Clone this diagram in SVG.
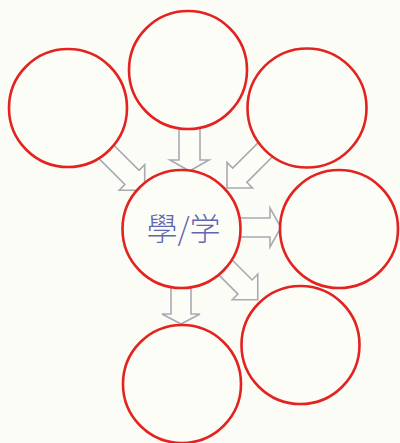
<svg xmlns="http://www.w3.org/2000/svg" width="400" height="443" viewBox="0 0 400 443">
  <style>
    .arrow { fill: #fdfdf8; stroke: #a7aab1; stroke-width: 1.6; stroke-linejoin: miter; }
    .node { fill: #fdfdf8; stroke: #e2231f; stroke-width: 2.6; }
    .label { font-family: "Noto Sans CJK TC", "Noto Sans CJK SC", sans-serif; font-size: 31px; font-weight: 300; fill: #5f68ae; text-anchor: middle; }
  </style>
  <defs>
    <polygon id="diag50" points="0,-10 50,-10 50,-18 68,0 50,18 50,10 0,10"/>
    <polygon id="diag45" points="0,-10 45,-10 45,-18 63,0 45,18 45,10 0,10"/>
  </defs>
  <rect width="400" height="443" fill="#fcfcf6"/>
  <g id="connectors">
    <polygon class="arrow" points="179,120 200,120 200,160 209,160 189.5,171 170,160 179,160"/>
    <polygon class="arrow" points="171,280 191,280 191,314 200,314 181,324 162,314 171,314"/>
    <polygon class="arrow" points="235,218 270,218 270,208 281,227.5 270,247 270,237 235,237"/>
    <use class="arrow" href="#diag50" transform="translate(96.6,142.1) rotate(45)"/>
    <use class="arrow" href="#diag50" transform="translate(275.1,139.9) rotate(135)"/>
    <use class="arrow" href="#diag45" transform="translate(213.2,255.2) rotate(45)"/>
  </g>
  <g id="node-top-left"><circle class="node" cx="68" cy="108" r="59"/></g>
  <g id="node-top"><circle class="node" cx="188" cy="70" r="59"/></g>
  <g id="node-top-right"><circle class="node" cx="307" cy="108" r="59.5"/></g>
  <g id="node-center">
    <circle class="node" cx="181.5" cy="229" r="59"/>
    <text class="label" x="183.5" y="240">學/学</text>
  </g>
  <g id="node-right"><circle class="node" cx="339" cy="229" r="59"/></g>
  <g id="node-bottom-right"><circle class="node" cx="300.5" cy="345" r="59"/></g>
  <g id="node-bottom"><circle class="node" cx="182" cy="384" r="59"/></g>
</svg>
